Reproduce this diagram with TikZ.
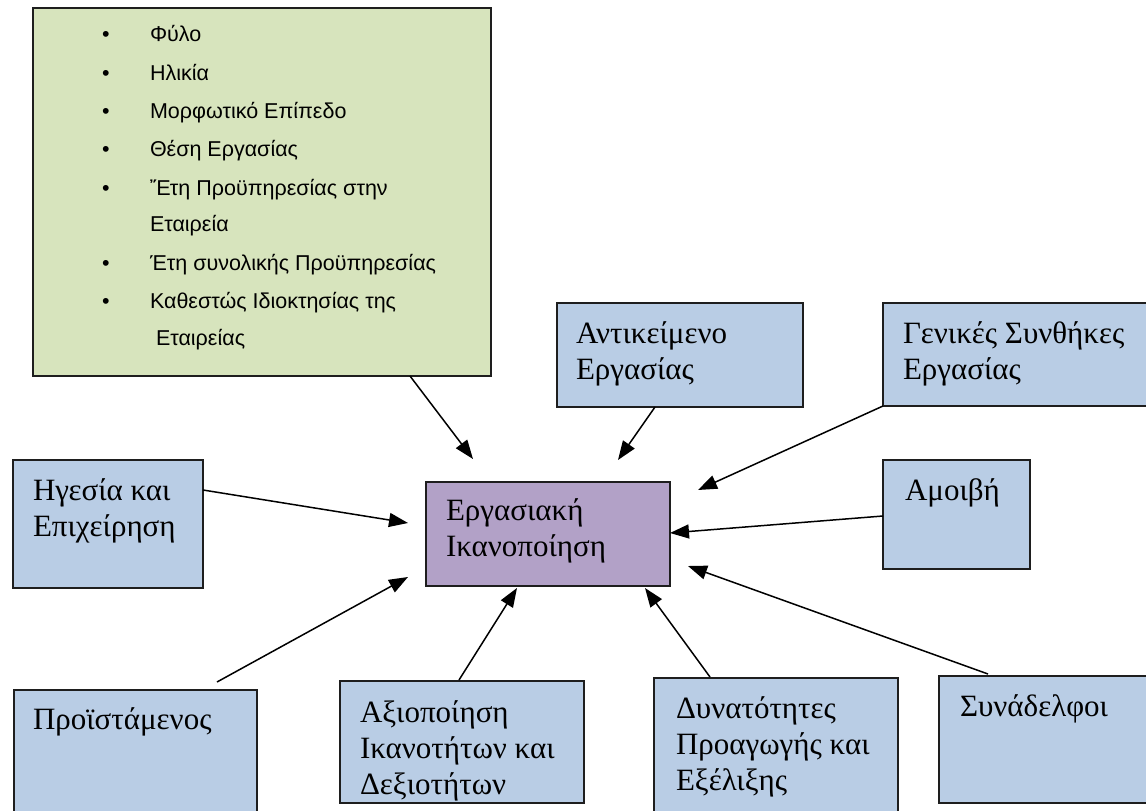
\documentclass[tikz,border=0pt]{standalone}
\usepackage{fontspec}
\setmainfont{Liberation Serif}
\newfontfamily\arialf{Liberation Sans}
\usetikzlibrary{arrows.meta}
\definecolor{boxblue}{RGB}{185,205,229}
\definecolor{boxgreen}{RGB}{215,228,189}
\definecolor{boxpurple}{RGB}{178,161,199}
\definecolor{edge}{RGB}{30,30,30}
\tikzset{
  box/.style={draw=edge, line width=1.7pt, fill=boxblue, rectangle, inner sep=0pt, outer sep=0pt, anchor=north west},
  lbl/.style={inner sep=0pt, outer sep=0pt, anchor=base west, font=\fontsize{31}{36}\selectfont},
  lst/.style={inner sep=0pt, outer sep=0pt, anchor=base west, font=\arialf\fontsize{21.5}{38}\selectfont},
  arr/.style={line width=1.5pt, -{Triangle[length=19pt,width=14pt]}}
}
\begin{document}
\begin{tikzpicture}[x=1pt,y=-1pt]
\useasboundingbox (0,0) rectangle (1146,811);

% boxes
\node[box, fill=boxgreen, minimum width=458pt, minimum height=368pt] (green) at (33,8) {};
\node[box, minimum width=246pt, minimum height=104pt] (ant) at (557,303) {};
\node[box, minimum width=270pt, minimum height=103pt] (gen) at (883,303) {};
\node[box, minimum width=190pt, minimum height=128pt] (heg) at (13,460) {};
\node[box, minimum width=147pt, minimum height=109pt] (amo) at (883,460) {};
\node[box, fill=boxpurple, minimum width=244pt, minimum height=104pt] (cen) at (426,482) {};
\node[box, minimum width=243pt, minimum height=135pt] (pro) at (14,690) {};
\node[box, minimum width=244pt, minimum height=122pt] (axi) at (340,681) {};
\node[box, minimum width=244pt, minimum height=145pt] (dyn) at (654,678) {};
\node[box, minimum width=215pt, minimum height=127pt] (syn) at (939,676) {};

% list in green box
\node[lst] (b1) at (102,41) {•};
\node[lst] (l1) at (150,41) {Φύλο};
\node[lst] (b2) at (102,80) {•};
\node[lst] (l2) at (150,80) {Ηλικία};
\node[lst] (b3) at (102,118) {•};
\node[lst] (l3) at (150,118) {Μορφωτικό Επίπεδο};
\node[lst] (b4) at (102,156) {•};
\node[lst] (l4) at (150,156) {Θέση Εργασίας};
\node[lst] (b5) at (102,195) {•};
\node[lst] (l5) at (150,195) {Ἔτη Προϋπηρεσίας στην};
\node[lst] (l6) at (150,231) {Εταιρεία};
\node[lst] (b7) at (102,270) {•};
\node[lst] (l7) at (150,270) {Έτη συνολικής Προϋπηρεσίας};
\node[lst] (b8) at (102,308) {•};
\node[lst] (l8) at (150,308) {Καθεστώς Ιδιοκτησίας της};
\node[lst] (l9) at (156,345) {Εταιρείας};

% labels
\node[lbl] (ant1) at (576,343) {Αντικείμενο};
\node[lbl] (ant2) at (576,379) {Εργασίας};
\node[lbl] (gen1) at (903,343) {Γενικές Συνθήκες};
\node[lbl] (gen2) at (903,379) {Εργασίας};
\node[lbl] (heg1) at (33,500) {Ηγεσία και};
\node[lbl] (heg2) at (33,536) {Επιχείρηση};
\node[lbl] (amo1) at (905,500) {Αμοιβή};
\node[lbl] (cen1) at (446,520) {Εργασιακή};
\node[lbl] (cen2) at (446,556) {Ικανοποίηση};
\node[lbl] (pro1) at (33,729) {Προϊστάμενος};
\node[lbl] (axi1) at (360,722) {Αξιοποίηση};
\node[lbl] (axi2) at (360,758) {Ικανοτήτων και};
\node[lbl] (axi3) at (360,794) {Δεξιοτήτων};
\node[lbl] (dyn1) at (676,718) {Δυνατότητες};
\node[lbl] (dyn2) at (676,754) {Προαγωγής και};
\node[lbl] (dyn3) at (676,790) {Εξέλιξης};
\node[lbl] (syn1) at (960,716) {Συνάδελφοι};

% connector end points
\coordinate (s1) at (410,376);   \coordinate (t1) at (473,459);
\coordinate (s2) at (655,407);   \coordinate (t2) at (618,460);
\coordinate (t3) at (698,490);
\coordinate (s4) at (883,516);   \coordinate (t4) at (670,533);
\coordinate (s5) at (988,674);   \coordinate (t5) at (688,566);
\coordinate (s6) at (710,677);   \coordinate (t6) at (645,588);
\coordinate (s7) at (459,680);   \coordinate (t7) at (517,588);
\coordinate (s8) at (217,682);   \coordinate (t8) at (408,577);
\coordinate (s9) at (203,490);   \coordinate (t9) at (408,523);

\draw[arr] (s1) -- (t1);
\draw[arr] (s2) -- (t2);
\draw[arr] (gen.south west) -- (t3);
\draw[arr] (s4) -- (t4);
\draw[arr] (s5) -- (t5);
\draw[arr] (s6) -- (t6);
\draw[arr] (s7) -- (t7);
\draw[arr] (s8) -- (t8);
\draw[arr] (s9) -- (t9);
\end{tikzpicture}
\end{document}
